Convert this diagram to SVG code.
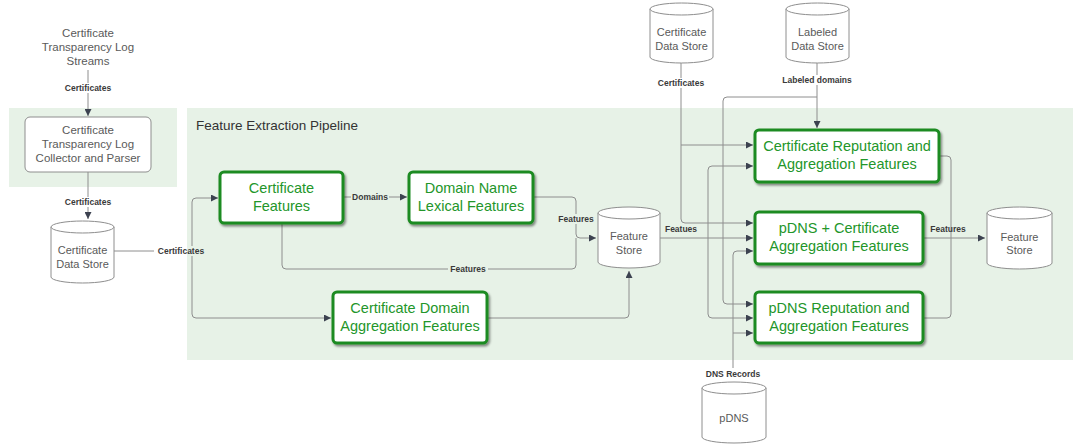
<svg xmlns="http://www.w3.org/2000/svg" width="1080" height="446" viewBox="0 0 1080 446">
<defs>
<marker id="ah" viewBox="0 0 10 10" refX="10" refY="5" markerWidth="8" markerHeight="7" markerUnits="userSpaceOnUse" orient="auto">
<path d="M0 0 L10 5 L0 10 Z" fill="#3c4250"/>
</marker>
<filter id="sh" x="-10%" y="-10%" width="120%" height="130%">
<feDropShadow dx="1.5" dy="2" stdDeviation="1" flood-color="#000" flood-opacity="0.45"/>
</filter>
<style>
.panel{fill:#e7f2e7}
.gbox{fill:#fff;stroke:#1f8b24;stroke-width:3}
.gt{font-family:"Liberation Sans",Arial,sans-serif;font-size:14.5px;fill:#23962a;text-anchor:middle}
.cyl{fill:#fff;stroke:#8e8e8e;stroke-width:1}
.ct{font-family:"Liberation Sans",Arial,sans-serif;font-size:11px;fill:#5a5a5a;text-anchor:middle}
.pt{font-family:"Liberation Sans",Arial,sans-serif;font-size:11.5px;fill:#5a5a5a;text-anchor:middle}
.ln{fill:none;stroke:#8e8e8e;stroke-width:1}
.arr{marker-end:url(#ah)}
.lb{font-family:"Liberation Sans",Arial,sans-serif;font-size:8.5px;font-weight:bold;fill:#3a3a3a;text-anchor:middle}
.title{font-family:"Liberation Sans",Arial,sans-serif;font-size:13.5px;fill:#333}
</style>
</defs>
<rect width="1080" height="446" fill="#fff"/>
<g id="panels">
<rect class="panel" x="9" y="108" width="168" height="79"/>
<rect class="panel" x="187" y="108" width="886" height="252"/>
<text class="title" x="196" y="130">Feature Extraction Pipeline</text>
</g>
<g id="connectors">
<path class="ln arr" d="M88 70 V116"/>
<path class="ln arr" d="M88 172 V219"/>
<path class="ln arr" d="M114 251 H188 Q192 251 192 247 V202 Q192 198 196 198 H218"/>
<path class="ln arr" d="M192 251 V314 Q192 318 196 318 H331"/>
<path class="ln arr" d="M343 197 H407"/>
<path class="ln arr" d="M533 197 H572 Q576 197 576 201 V234 Q576 238 580 238 H596"/>
<path class="ln" d="M282 223 V265 Q282 269 286 269 H572 Q576 269 576 265 V238"/>
<path class="ln arr" d="M487 318 H625 Q629 318 629 314 V271"/>
<path class="ln arr" d="M660 238 H753"/>
<path class="ln arr" d="M708 238 V170 Q708 166 712 166 H753"/>
<path class="ln arr" d="M708 238 V314 Q708 318 712 318 H753"/>
<path class="ln arr" d="M681 63 V219 Q681 223 685 223 H753"/>
<path class="ln arr" d="M681 145 H753"/>
<path class="ln arr" d="M817 63 V128"/>
<path class="ln arr" d="M817 97 H727 Q723 97 723 101 V300 Q723 304 727 304 H753"/>
<path class="ln arr" d="M733 368 V255 Q733 251 737 251 H753"/>
<path class="ln arr" d="M733 333 H753"/>
<path class="ln" d="M939 156 H947 Q951 156 951 160 V314 Q951 318 947 318 H923"/>
<path class="ln arr" d="M923 238 H985"/>
<rect x="62" y="83" width="52" height="10" fill="#fff"/>
<text class="lb" x="88" y="91">Certificates</text>
<rect x="62" y="197" width="52" height="10" fill="#fff"/>
<text class="lb" x="88" y="205">Certificates</text>
<rect x="154" y="246" width="33" height="10" fill="#fff"/>
<rect x="187" y="246" width="21" height="10" fill="#e7f2e7"/>
<text class="lb" x="181" y="254">Certificates</text>
<rect x="351" y="192" width="38" height="10" fill="#e7f2e7"/>
<text class="lb" x="370" y="200">Domains</text>
<rect x="556" y="214" width="40" height="10" fill="#e7f2e7"/>
<text class="lb" x="576" y="222">Features</text>
<rect x="448" y="264" width="40" height="10" fill="#e7f2e7"/>
<text class="lb" x="468" y="272">Features</text>
<text class="lb" x="681" y="232">Featues</text>
<text class="lb" x="948" y="232">Features</text>
<rect x="656" y="78" width="50" height="10" fill="#fff"/>
<text class="lb" x="681" y="86">Certificates</text>
<rect x="781" y="75" width="72" height="10" fill="#fff"/>
<text class="lb" x="817" y="83">Labeled domains</text>
<text class="lb" x="733" y="377">DNS Records</text>
</g>
<g id="ct-streams">
<text class="pt" x="88" y="37">Certificate</text>
<text class="pt" x="88" y="51">Transparency Log</text>
<text class="pt" x="88" y="65">Streams</text>
</g>
<g id="collector">
<rect x="25" y="117" width="126" height="55" rx="5" fill="#fff" stroke="#8e8e8e"/>
<text class="pt" x="88" y="134">Certificate</text>
<text class="pt" x="88" y="148">Transparency Log</text>
<text class="pt" x="88" y="162">Collector and Parser</text>
</g>
<g id="cert-store-left">
<path class="cyl" d="M51 227 A31.5 6 0 0 1 114 227 V277 A31.5 6 0 0 1 51 277 Z"/>
<path class="cyl" d="M51 227 A31.5 6 0 0 0 114 227"/>
<text class="ct" x="82.5" y="254">Certificate</text>
<text class="ct" x="82.5" y="268">Data Store</text>
</g>
<g id="cert-features">
<rect class="gbox" x="220" y="172" width="123" height="51" rx="4" filter="url(#sh)"/>
<text class="gt" x="281.5" y="193">Certificate</text>
<text class="gt" x="281.5" y="211">Features</text>
</g>
<g id="domain-lexical">
<rect class="gbox" x="409" y="172" width="124" height="51" rx="4" filter="url(#sh)"/>
<text class="gt" x="471" y="193">Domain Name</text>
<text class="gt" x="471" y="211">Lexical Features</text>
</g>
<g id="cert-domain-agg">
<rect class="gbox" x="333" y="292" width="154" height="51" rx="4" filter="url(#sh)"/>
<text class="gt" x="410" y="313">Certificate Domain</text>
<text class="gt" x="410" y="331">Aggregation Features</text>
</g>
<g id="feature-store-mid">
<path class="cyl" d="M598 213 A31 6 0 0 1 660 213 V262 A31 6 0 0 1 598 262 Z"/>
<path class="cyl" d="M598 213 A31 6 0 0 0 660 213"/>
<text class="ct" x="629" y="240">Feature</text>
<text class="ct" x="629" y="254">Store</text>
</g>
<g id="cert-store-top">
<path class="cyl" d="M650 9 A31.5 6 0 0 1 713 9 V57 A31.5 6 0 0 1 650 57 Z"/>
<path class="cyl" d="M650 9 A31.5 6 0 0 0 713 9"/>
<text class="ct" x="681.5" y="36">Certificate</text>
<text class="ct" x="681.5" y="50">Data Store</text>
</g>
<g id="labeled-store">
<path class="cyl" d="M786 9 A31.5 6 0 0 1 849 9 V57 A31.5 6 0 0 1 786 57 Z"/>
<path class="cyl" d="M786 9 A31.5 6 0 0 0 849 9"/>
<text class="ct" x="817.5" y="36">Labeled</text>
<text class="ct" x="817.5" y="50">Data Store</text>
</g>
<g id="cert-rep">
<rect class="gbox" x="755" y="130" width="184" height="52" rx="4" filter="url(#sh)"/>
<text class="gt" x="847" y="151">Certificate Reputation and</text>
<text class="gt" x="847" y="169">Aggregation Features</text>
</g>
<g id="pdns-cert">
<rect class="gbox" x="755" y="212" width="168" height="52" rx="4" filter="url(#sh)"/>
<text class="gt" x="839" y="233">pDNS + Certificate</text>
<text class="gt" x="839" y="251">Aggregation Features</text>
</g>
<g id="pdns-rep">
<rect class="gbox" x="755" y="292" width="168" height="51" rx="4" filter="url(#sh)"/>
<text class="gt" x="839" y="313">pDNS Reputation and</text>
<text class="gt" x="839" y="331">Aggregation Features</text>
</g>
<g id="feature-store-right">
<path class="cyl" d="M987 213 A32.5 6 0 0 1 1052 213 V263 A32.5 6 0 0 1 987 263 Z"/>
<path class="cyl" d="M987 213 A32.5 6 0 0 0 1052 213"/>
<text class="ct" x="1019.5" y="241">Feature</text>
<text class="ct" x="1019.5" y="254">Store</text>
</g>
<g id="pdns">
<path class="cyl" d="M702 388 A32 6 0 0 1 766 388 V437 A32 6 0 0 1 702 437 Z"/>
<path class="cyl" d="M702 388 A32 6 0 0 0 766 388"/>
<text class="ct" x="734" y="422">pDNS</text>
</g>
</svg>
